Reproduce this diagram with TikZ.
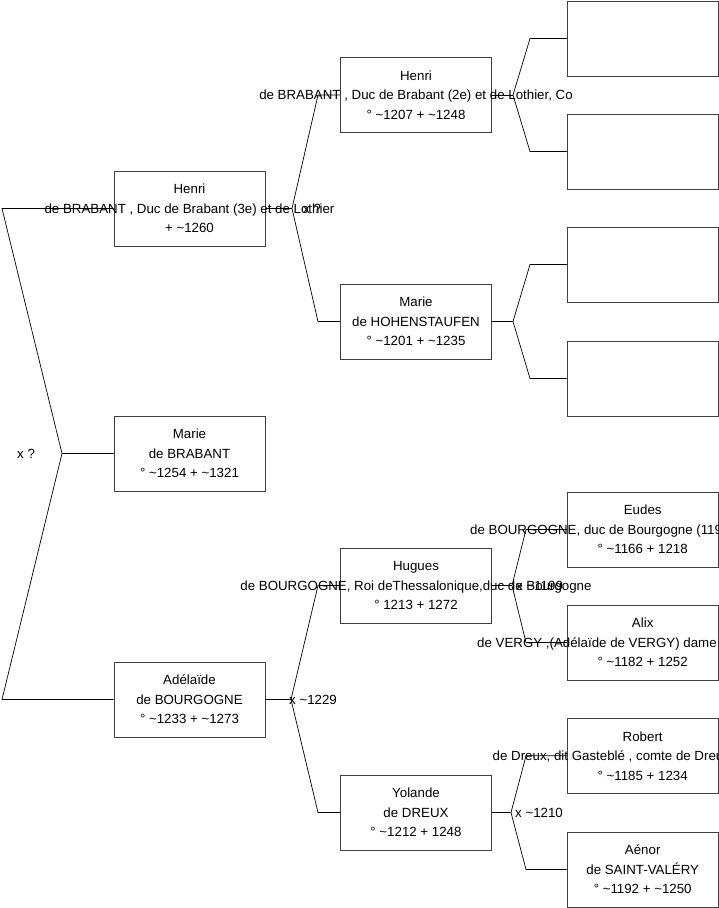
\documentclass[tikz,border=0pt]{standalone}
\usepackage{fontspec}
\setmainfont{Liberation Sans}
\newcommand\tld{\textasciitilde}
\begin{document}
\begin{tikzpicture}[x=1pt,y=-1pt,
  box/.style={draw=black!75, line width=0.8pt, minimum width=151pt, minimum height=75pt, inner sep=0pt},
  txt/.style={align=center, inner sep=0pt, font=\fontsize{13.3}{19.5}\selectfont},
  link/.style={draw=black, line width=0.7pt},
  lbl/.style={anchor=west, inner sep=0pt, font=\fontsize{13.3}{16}\selectfont}]
\useasboundingbox (0,0) rectangle (719,908);
\clip (0,0) rectangle (719,908);

% column 1
\node[box] (henriA) at (189.5,208.5) {};
\node[txt] (henriAt) at (henriA) {Henri\\de BRABANT , Duc de Brabant (3e) et de Lothier\\+ \tld1260};
\node[box] (marieB) at (189.5,453.5) {};
\node[txt] (marieBt) at (marieB) {Marie\\de BRABANT\\° \tld1254 + \tld1321};
\node[box] (adel) at (189.5,699.5) {};
\node[txt] (adelt) at (adel) {Adélaïde\\de BOURGOGNE\\° \tld1233 + \tld1273};

% column 2
\node[box] (henriB) at (416,95) {};
\node[txt] (henriBt) at (henriB) {Henri\\de BRABANT , Duc de Brabant (2e) et de Lothier, Co\\° \tld1207 + \tld1248};
\node[box] (marieH) at (416,321.5) {};
\node[txt] (marieHt) at (marieH) {Marie\\de HOHENSTAUFEN\\° \tld1201 + \tld1235};
\node[box] (hugues) at (416,585.5) {};
\node[txt] (huguest) at (hugues) {Hugues\\de BOURGOGNE, Roi deThessalonique,duc de Bourgogne\\° 1213 + 1272};
\node[box] (yol) at (416,812.5) {};
\node[txt] (yolt) at (yol) {Yolande\\de DREUX\\° \tld1212 + 1248};

% column 3
\node[box] (e1) at (642.7,38.5) {};
\node[box] (e2) at (642.7,151.5) {};
\node[box] (e3) at (642.7,264.5) {};
\node[box] (e4) at (642.7,378.5) {};
\node[box] (eudes) at (642.7,529.5) {};
\node[txt] (eudest) at (eudes) {Eudes\\\makebox[345pt][l]{de BOURGOGNE, duc de Bourgogne (119}\\° \tld1166 + 1218};
\node[box] (alix) at (642.7,642.5) {};
\node[txt] (alixt) at (alix) {Alix\\\makebox[331pt][l]{de VERGY ,(Adélaïde de VERGY) dame}\\° \tld1182 + 1252};
\node[box] (robert) at (642.7,755.8) {};
\node[txt] (robertt) at (robert) {Robert\\\makebox[300pt][l]{de Dreux, dit Gasteblé , comte de Dreu}\\° \tld1185 + 1234};
\node[box] (aenor) at (642.7,869.5) {};
\node[txt] (aenort) at (aenor) {Aénor\\de SAINT-VALÉRY\\° \tld1192 + \tld1250};

% root junction
\coordinate (r1) at (2,208.5);
\coordinate (r2) at (62,453.5);
\coordinate (r3) at (2,699.5);
\draw[link] (henriA.west) -- (r1) -- (r2) -- (r3) -- (adel.west);
\draw[link] (r2) -- (marieB.west);
\node[lbl] (lr) at (17,453.5) {x ?};

% Henri (3e)
\coordinate (jA) at (292,208.5);
\coordinate (jA1) at (318,95);
\coordinate (jA2) at (318,321.5);
\draw[link] (henriA.east) -- (jA);
\draw[link] (henriB.west) -- (jA1) -- (jA) -- (jA2) -- (marieH.west);
\node[lbl] (lA) at (303,208.5) {x ?};

% Adelaide
\coordinate (jC) at (291,699.5);
\coordinate (jC1) at (318,585.5);
\coordinate (jC2) at (318,812.5);
\draw[link] (adel.east) -- (jC);
\draw[link] (hugues.west) -- (jC1) -- (jC) -- (jC2) -- (yol.west);
\node[lbl] (lC) at (289,699.5) {x \tld1229};

% Henri (2e)
\coordinate (jB) at (513,95);
\coordinate (jB1) at (530,38.5);
\coordinate (jB2) at (530,151.5);
\draw[link] (henriB.east) -- (jB);
\draw[link] (e1.west) -- (jB1) -- (jB) -- (jB2) -- (e2.west);

% Marie H
\coordinate (jD) at (513,321.5);
\coordinate (jD1) at (530,264.5);
\coordinate (jD2) at (530,378.5);
\draw[link] (marieH.east) -- (jD);
\draw[link] (e3.west) -- (jD1) -- (jD) -- (jD2) -- (e4.west);

% Hugues
\coordinate (jE) at (512,585.5);
\coordinate (jE1) at (526,529.5);
\coordinate (jE2) at (526,642.5);
\draw[link] (hugues.east) -- (jE);
\draw[link] (eudes.west) -- (jE1) -- (jE) -- (jE2) -- (alix.west);
\node[lbl] (lE) at (516,585.5) {x \tld1199};

% Yolande
\coordinate (jF) at (511,812.5);
\coordinate (jF1) at (526,755.8);
\coordinate (jF2) at (526,869.5);
\draw[link] (yol.east) -- (jF);
\draw[link] (robert.west) -- (jF1) -- (jF) -- (jF2) -- (aenor.west);
\node[lbl] (lF) at (515,812.5) {x \tld1210};
\end{tikzpicture}
\end{document}
